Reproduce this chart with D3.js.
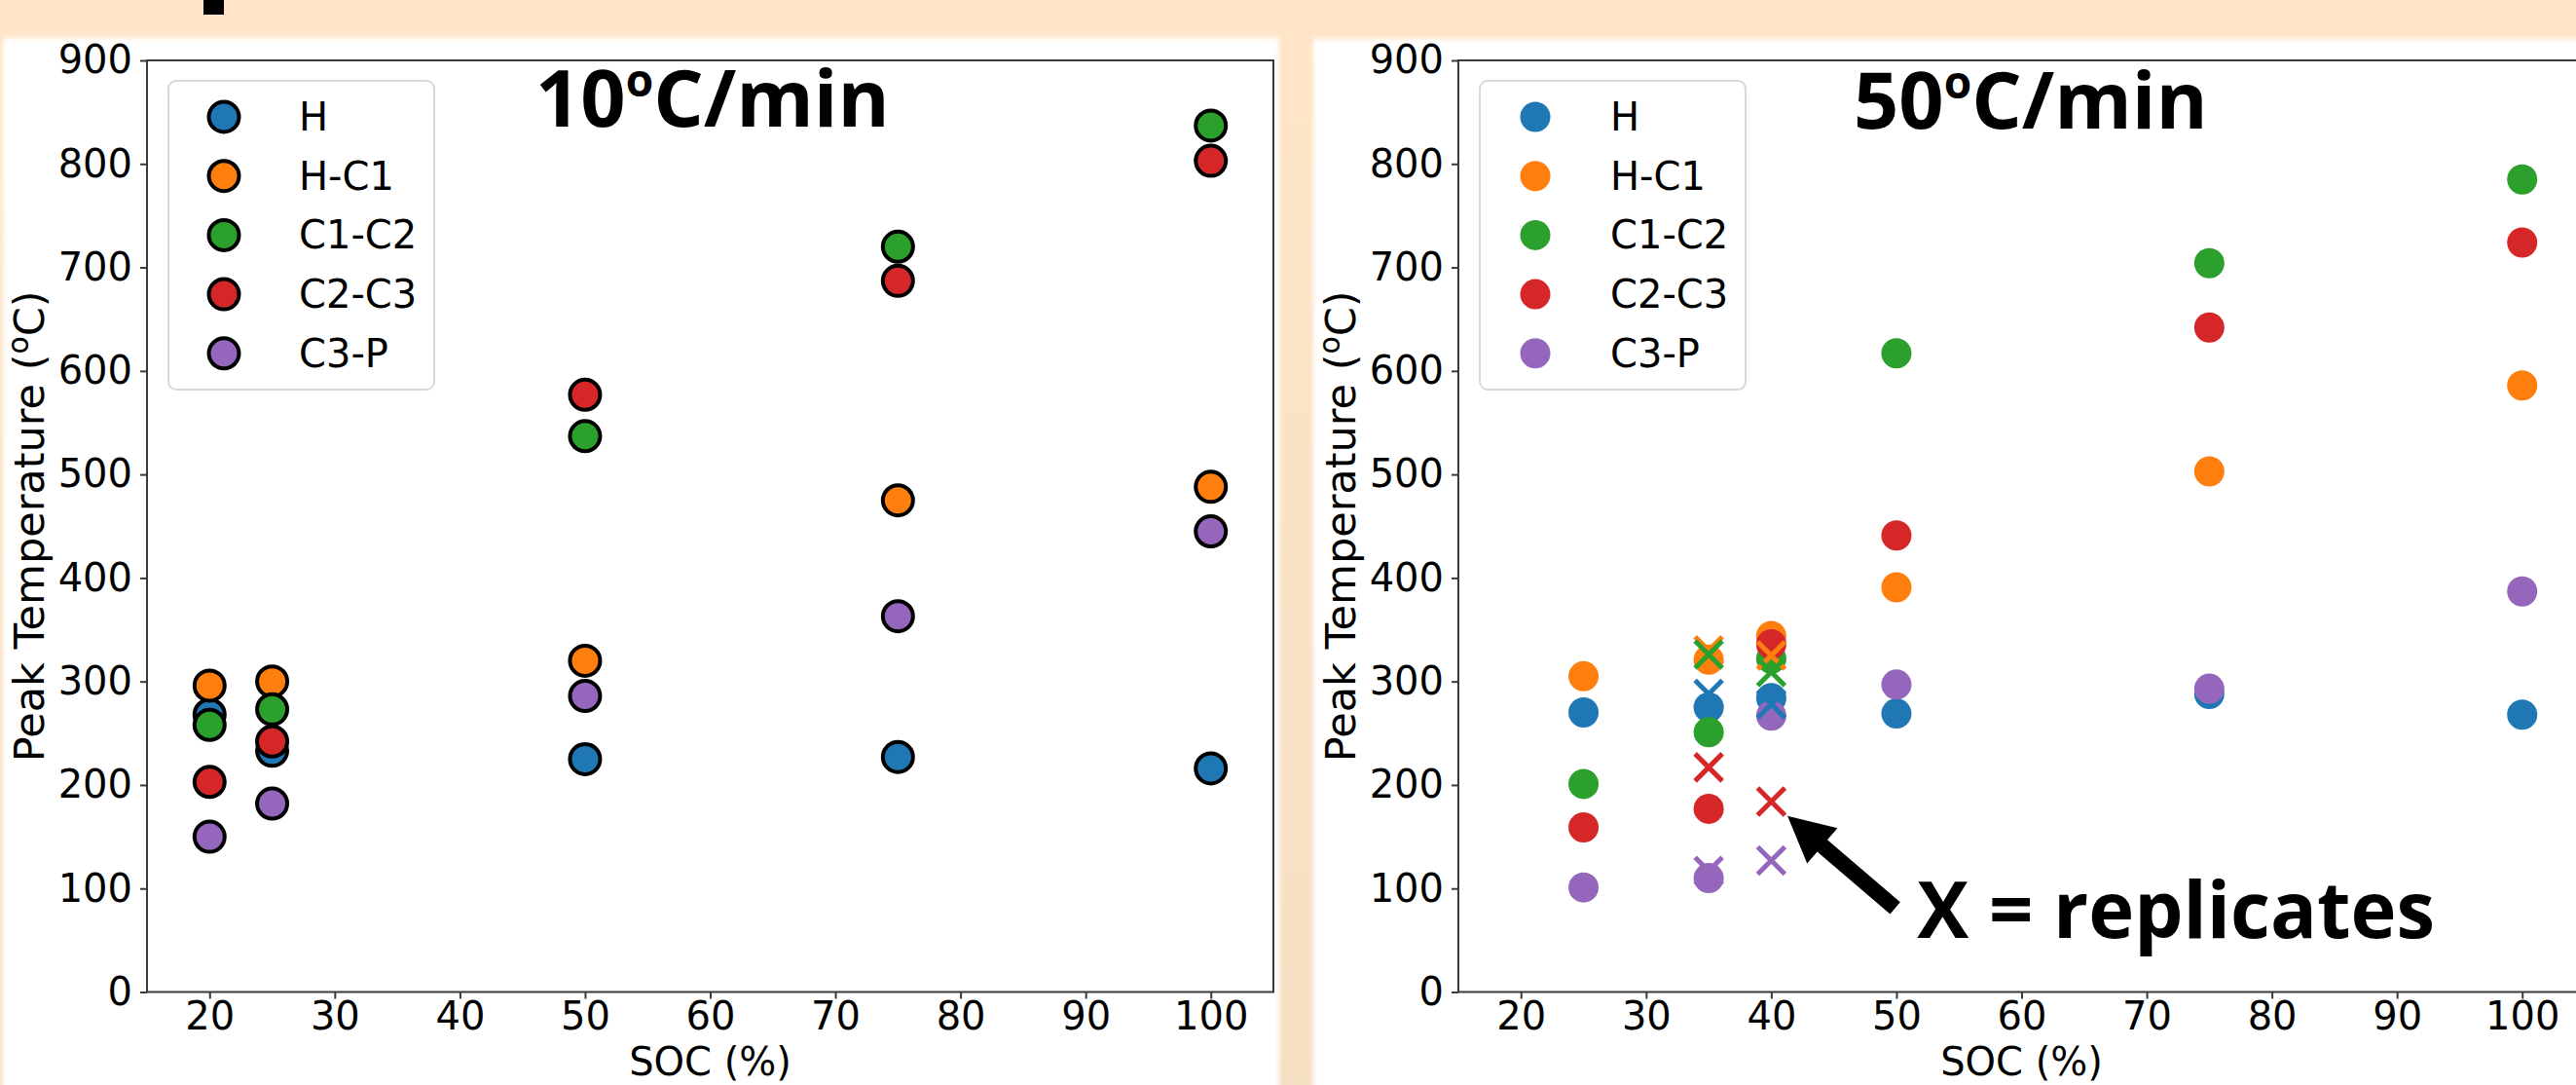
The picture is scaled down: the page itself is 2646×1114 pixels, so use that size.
<!DOCTYPE html>
<html>
<head>
<meta charset="utf-8">
<script src="https://cdn.jsdelivr.net/npm/d3@7"></script>
<style>
  body { margin: 0; background: #ffe4c8; }
  svg { display: block; }
</style>
</head>
<body>
<div id="content"></div>
<script>
// data
let seriesNames = ["H", "H-C1", "C1-C2", "C2-C3", "C3-P"];
let seriesColors = ["#1f77b4", "#ff7f0e", "#2ca02c", "#d62728", "#9467bd"];

// 10 C/min
let soc10 = [20, 25, 50, 75, 100];
let h10 = [268, 233, 225, 227, 216];
let hc1_10 = [296, 300, 320, 475, 488];
let c1c2_10 = [258, 273, 537, 720, 837];
let c2c3_10 = [203, 242, 577, 687, 803];
let c3p_10 = [150, 182, 286, 363, 445];

// 50 C/min
let soc50 = [25, 35, 40, 50, 75, 100];
let h50 = [270, 275, 284, 269, 288, 268];
let hc1_50 = [305, 321, 344, 391, 503, 586];
let c1c2_50 = [201, 251, 322, 617, 704, 785];
let c2c3_50 = [159, 177, 336, 441, 642, 724];
let c3p_50 = [101, 110, 267, 297, 293, 387];

// replicates (x markers) on the 50 C/min panel
let socRep = [35, 40];
let hRep = [288, 278];
let hc1Rep = [330, 325];
let c1c2Rep = [326, 309];
let c2c3Rep = [217, 184];
let c3pRep = [117, 127];

let xTicks = [20, 30, 40, 50, 60, 70, 80, 90, 100];
let yTicks = [0, 100, 200, 300, 400, 500, 600, 700, 800, 900];

let svgWidth = 2646;
let svgHeight = 1114;

let svg = d3.select("div#content")
  .append("svg")
  .attr("width", svgWidth)
  .attr("height", svgHeight);

let defs = svg.append("defs");

let bg = defs.append("linearGradient")
  .attr("id", "bg")
  .attr("x1", 0).attr("y1", 0)
  .attr("x2", 0).attr("y2", 1);
bg.append("stop").attr("offset", "0").attr("stop-color", "#ffe4c8");
bg.append("stop").attr("offset", "1").attr("stop-color", "#f5dfc3");

defs.append("filter")
  .attr("id", "soft")
  .attr("x", "-5%").attr("y", "-5%")
  .attr("width", "110%").attr("height", "110%")
  .append("feGaussianBlur")
  .attr("stdDeviation", 2.5);

svg.append("rect")
  .attr("width", svgWidth)
  .attr("height", svgHeight)
  .attr("fill", "url(#bg)");

// bit of a letter cut off at the top
svg.append("rect")
  .attr("x", 209).attr("y", 0)
  .attr("width", 21).attr("height", 15)
  .attr("fill", "#000");

// white slide panels
svg.append("rect")
  .attr("x", 3).attr("y", 39)
  .attr("width", 1311).attr("height", 1090)
  .attr("fill", "#fff")
  .attr("filter", "url(#soft)");

svg.append("rect")
  .attr("x", 1349).attr("y", 40)
  .attr("width", 1310).attr("height", 1090)
  .attr("fill", "#fff")
  .attr("filter", "url(#soft)");

function drawPanel(opts) {
  let x = d3.scaleLinear().domain([15, 105]).range([opts.left, opts.left + 1157]);
  let y = d3.scaleLinear().domain([0, 900]).range([1018.5, 62]);

  let g = svg.append("g");

  // spines
  g.append("rect")
    .attr("x", x(15)).attr("y", y(900))
    .attr("width", x(105) - x(15))
    .attr("height", y(0) - y(900))
    .attr("fill", "none")
    .attr("stroke", "#3a3a3a")
    .attr("stroke-width", 2);

  let xAxis = g.append("g")
    .attr("transform", "translate(0," + y(0) + ")")
    .call(d3.axisBottom(x).tickValues(xTicks).tickSize(7).tickPadding(3));

  let yAxis = g.append("g")
    .attr("transform", "translate(" + x(15) + ",0)")
    .call(d3.axisLeft(y).tickValues(yTicks).tickSize(7).tickPadding(8));

  [xAxis, yAxis].forEach(a => {
    a.select(".domain").remove();
    a.selectAll(".tick line").attr("stroke", "#3a3a3a").attr("stroke-width", 2);
    a.selectAll(".tick text")
      .attr("fill", "#000")
      .style("font-family", "DejaVu Sans")
      .style("font-size", "40px");
  });

  g.append("text")
    .attr("x", (x(15) + x(105)) / 2)
    .attr("y", 1104)
    .attr("text-anchor", "middle")
    .style("font-family", "DejaVu Sans")
    .style("font-size", "40px")
    .text("SOC (%)");

  let yl = g.append("text")
    .attr("transform", "translate(" + (x(15) - 106) + "," + ((y(0) + y(900)) / 2) + ") rotate(-90)")
    .attr("text-anchor", "middle")
    .style("font-family", "DejaVu Sans")
    .style("font-size", "43px");
  yl.append("tspan").text("Peak Temperature (");
  yl.append("tspan").attr("dy", -16).style("font-size", "30px").text("o");
  yl.append("tspan").attr("dy", 16).text("C)");

  // circles, one call per series
  opts.series.forEach((vals, i) => {
    g.append("g")
      .selectAll("circle")
      .data(vals.map((v, j) => ({ soc: opts.soc[j], t: v })))
      .enter()
      .append("circle")
      .attr("cx", d => x(d.soc))
      .attr("cy", d => y(d.t))
      .attr("r", 15.5)
      .attr("fill", seriesColors[i])
      .attr("stroke", opts.edge ? "#000" : "none")
      .attr("stroke-width", 4);
  });

  // replicate crosses
  if (opts.reps) {
    opts.reps.forEach((vals, i) => {
      let pts = vals.map((v, j) => ({ soc: socRep[j], t: v }));
      g.append("g")
        .selectAll("path")
        .data(pts)
        .enter()
        .append("path")
        .attr("d", d => {
          let cx = x(d.soc), cy = y(d.t), s = 14;
          return "M" + (cx - s) + "," + (cy - s) + "L" + (cx + s) + "," + (cy + s) +
            "M" + (cx - s) + "," + (cy + s) + "L" + (cx + s) + "," + (cy - s);
        })
        .attr("stroke", seriesColors[i])
        .attr("stroke-width", 5)
        .attr("fill", "none");
    });
  }

  // legend
  let lg = g.append("g");
  lg.append("rect")
    .attr("x", x(15) + 22).attr("y", 83)
    .attr("width", 273).attr("height", 317)
    .attr("rx", 8)
    .attr("fill", "#fff")
    .attr("fill-opacity", 0.8)
    .attr("stroke", "#d9d9d9")
    .attr("stroke-width", 2);

  seriesNames.forEach((name, i) => {
    let ly = 120 + i * 60.7;
    lg.append("circle")
      .attr("cx", x(15) + 79).attr("cy", ly)
      .attr("r", 15.5)
      .attr("fill", seriesColors[i])
      .attr("stroke", opts.edge ? "#000" : "none")
      .attr("stroke-width", 4);
    lg.append("text")
      .attr("x", x(15) + 156).attr("y", ly + 14)
      .style("font-family", "DejaVu Sans")
      .style("font-size", "40px")
      .text(name);
  });

  // rate title
  let t = g.append("text")
    .attr("x", opts.titleX).attr("y", opts.titleY)
    .style("font-family", "Open Sans")
    .style("font-weight", "bold")
    .style("font-size", "81px");
  t.append("tspan").text(opts.rate);
  t.append("tspan").attr("dy", -31).style("font-size", "46px").text("o");
  t.append("tspan").attr("dy", 31).text("C/min");

  return { x: x, y: y, g: g };
}

let left = drawPanel({
  left: 151,
  soc: soc10,
  series: [h10, hc1_10, c1c2_10, c2c3_10, c3p_10],
  edge: true,
  rate: "10",
  titleX: 550,
  titleY: 130
});

let right = drawPanel({
  left: 1498,
  soc: soc50,
  series: [h50, hc1_50, c1c2_50, c2c3_50, c3p_50],
  reps: [hRep, hc1Rep, c1c2Rep, c2c3Rep, c3pRep],
  edge: false,
  rate: "50",
  titleX: 1904,
  titleY: 132
});

// annotation arrow pointing at the 40% replicate
let rx = right.x, ry = right.y;
let tip = [rx(41.3), ry(170)];
let tail = [rx(49.9), ry(81)];
let dx = tip[0] - tail[0], dy = tip[1] - tail[1];
let len = Math.sqrt(dx * dx + dy * dy);
let ux = dx / len, uy = dy / len;
let px = -uy, py = ux;
let headLen = 47, headW = 24, shaftW = 8;
let bx = tip[0] - ux * headLen, by = tip[1] - uy * headLen;
let arrowPts = [
  [tail[0] + px * shaftW, tail[1] + py * shaftW],
  [bx + px * shaftW, by + py * shaftW],
  [bx + px * headW, by + py * headW],
  tip,
  [bx - px * headW, by - py * headW],
  [bx - px * shaftW, by - py * shaftW],
  [tail[0] - px * shaftW, tail[1] - py * shaftW]
];
right.g.append("path")
  .attr("d", d3.line()(arrowPts) + "Z")
  .attr("fill", "#000");

right.g.append("text")
  .attr("x", rx(51.65)).attr("y", ry(52))
  .style("font-family", "Open Sans")
  .style("font-weight", "bold")
  .style("font-size", "80px")
  .attr("textLength", 532)
  .attr("lengthAdjust", "spacingAndGlyphs")
  .text("X = replicates");
</script>
</body>
</html>
